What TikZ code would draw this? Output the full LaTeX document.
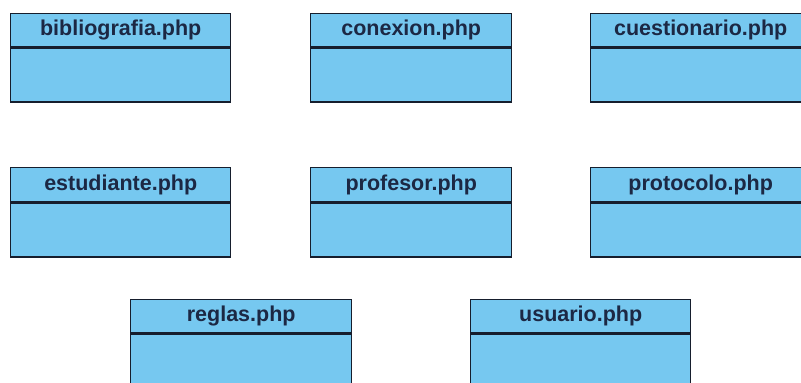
\documentclass[tikz,border=0pt]{standalone}
\usepackage{fontspec}
\setmainfont{Liberation Sans}
\definecolor{boxfill}{RGB}{118,200,240}
\definecolor{boxline}{RGB}{22,30,45}
\definecolor{txt}{RGB}{28,40,68}
\begin{document}
\begin{tikzpicture}[x=1pt,y=1pt,
  hdr/.style={draw=boxline, fill=boxfill, line width=1.4pt, anchor=north west,
    minimum height=33pt, inner sep=0pt, text=txt, font=\fontsize{21.5}{23}\selectfont\bfseries},
  bodybox/.style={draw=boxline, fill=boxfill, line width=1.4pt, anchor=north west,
    inner sep=0pt}]
\useasboundingbox (0,0) rectangle (801,-383);
\clip (0,0) rectangle (801,-383);
% row 1
\node[hdr, minimum width=220pt] (bib) at (10,-13) {bibliografia.php};
\node[bodybox, minimum width=220pt, minimum height=54pt] (bibb) at (bib.south west) {};
\node[hdr, minimum width=201pt] (con) at (310,-13) {conexion.php};
\node[bodybox, minimum width=201pt, minimum height=54pt] (conb) at (con.south west) {};
\node[hdr, minimum width=220pt] (cue) at (590,-13) {cuestionario.php};
\node[bodybox, minimum width=220pt, minimum height=54pt] (cueb) at (cue.south west) {};
% row 2
\node[hdr, minimum width=220pt, minimum height=34pt] (est) at (10,-167) {estudiante.php};
\node[bodybox, minimum width=220pt, minimum height=54pt] (estb) at (est.south west) {};
\node[hdr, minimum width=201pt, minimum height=34pt] (pro) at (310,-167) {profesor.php};
\node[bodybox, minimum width=201pt, minimum height=54pt] (prob) at (pro.south west) {};
\node[hdr, minimum width=220pt, minimum height=34pt] (ptc) at (590,-167) {protocolo.php};
\node[bodybox, minimum width=220pt, minimum height=54pt] (ptcb) at (ptc.south west) {};
% row 3
\node[hdr, minimum width=221pt] (reg) at (130,-299) {reglas.php};
\node[bodybox, minimum width=221pt, minimum height=70pt] (regb) at (reg.south west) {};
\node[hdr, minimum width=220pt] (usu) at (470,-299) {usuario.php};
\node[bodybox, minimum width=220pt, minimum height=70pt] (usub) at (usu.south west) {};
\end{tikzpicture}
\end{document}
